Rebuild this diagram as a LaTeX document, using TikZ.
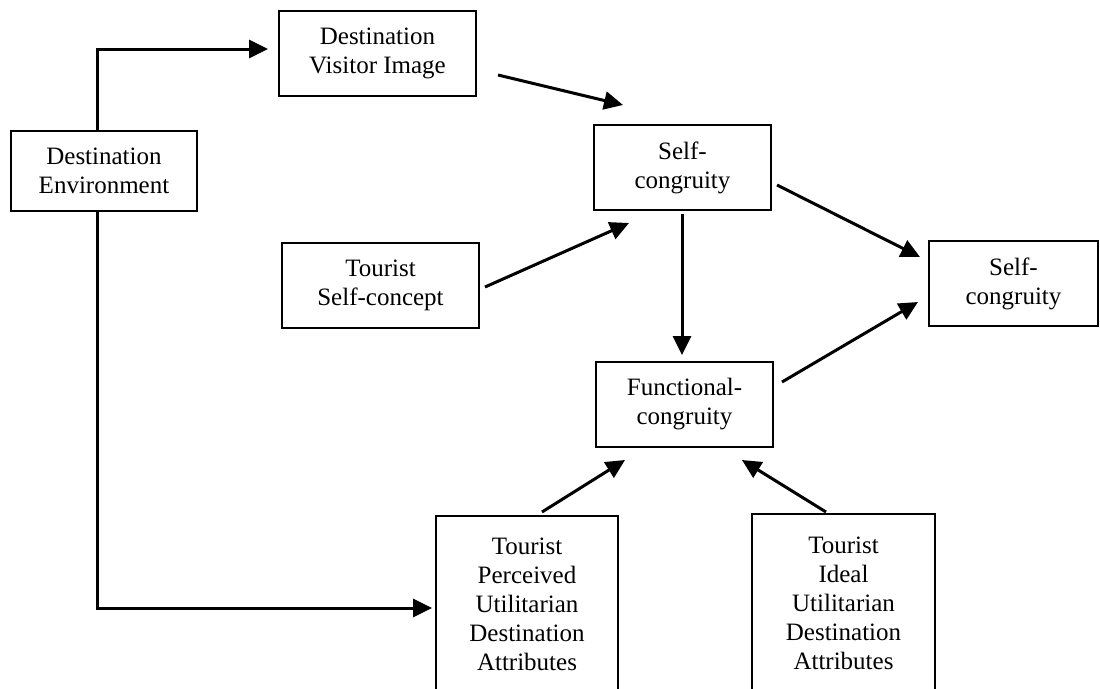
\documentclass[tikz,border=0pt]{standalone}
\usepackage{fontspec}
\setmainfont{Liberation Serif}
\usetikzlibrary{arrows.meta}

\begin{document}
\begin{tikzpicture}[x=1pt,y=-1pt,
  box/.style={draw, line width=1.9pt, align=center, inner sep=0pt,
    font=\fontsize{25}{29}\selectfont},
  arr/.style={line width=3pt, -{Triangle[length=19pt,width=18pt]}}]
  \useasboundingbox (0,0) rectangle (1100,688);
  \clip (0,0) rectangle (1100,688);
  \fill[white] (0,0) rectangle (1100,688);

  % boxes
  \node[box, minimum width=197pt, minimum height=85pt] (dvi) at (377.5,53.5) {Destination\\Visitor Image};
  \node[box, minimum width=186pt, minimum height=80pt] (de) at (104,171) {Destination\\Environment};
  \node[box, minimum width=177pt, minimum height=85pt] (sc) at (682.5,167.5) {Self-\\congruity};
  \node[box, minimum width=197pt, minimum height=85pt] (tsc) at (380.5,285.5) {Tourist\\Self-concept};
  \node[box, minimum width=169pt, minimum height=85pt] (rsc) at (1013.5,283.5) {Self-\\congruity};
  \node[box, minimum width=177pt, minimum height=85pt] (fc) at (684.5,404.5) {Functional-\\congruity};
  \node[box, minimum width=182pt, minimum height=176pt] (tp) at (527,604) {Tourist\\Perceived\\Utilitarian\\Destination\\Attributes};
  \node[box, minimum width=183pt, minimum height=178pt] (ti) at (843.5,603) {Tourist\\Ideal\\Utilitarian\\Destination\\Attributes};

  % bend points and free arrow ends
  \coordinate (upBend) at (97,49);
  \coordinate (upTip) at (268,49);
  \coordinate (downBend) at (97,608);
  \coordinate (downTip) at (432,608);
  \coordinate (dviOut) at (498,75);   \coordinate (scInA) at (623,105);
  \coordinate (tscOut) at (485,287);  \coordinate (scInB) at (629,223);
  \coordinate (scOutA) at (682,214);  \coordinate (fcIn) at (682,355);
  \coordinate (scOutB) at (777,185);  \coordinate (rscInA) at (920,257);
  \coordinate (fcOut) at (782,382);   \coordinate (rscInB) at (918,302);
  \coordinate (tpOut) at (542,512);   \coordinate (fcInA) at (625,460);
  \coordinate (tiOut) at (826,512);   \coordinate (fcInB) at (742,460);

  % connectors
  \draw[arr] (de.north -| upBend) -- (upBend) -- (upTip);
  \draw[arr] (de.south -| downBend) -- (downBend) -- (downTip);
  \draw[arr] (dviOut) -- (scInA);
  \draw[arr] (tscOut) -- (scInB);
  \draw[arr] (scOutA) -- (fcIn);
  \draw[arr] (scOutB) -- (rscInA);
  \draw[arr] (fcOut) -- (rscInB);
  \draw[arr] (tpOut) -- (fcInA);
  \draw[arr] (tiOut) -- (fcInB);
\end{tikzpicture}
\end{document}
